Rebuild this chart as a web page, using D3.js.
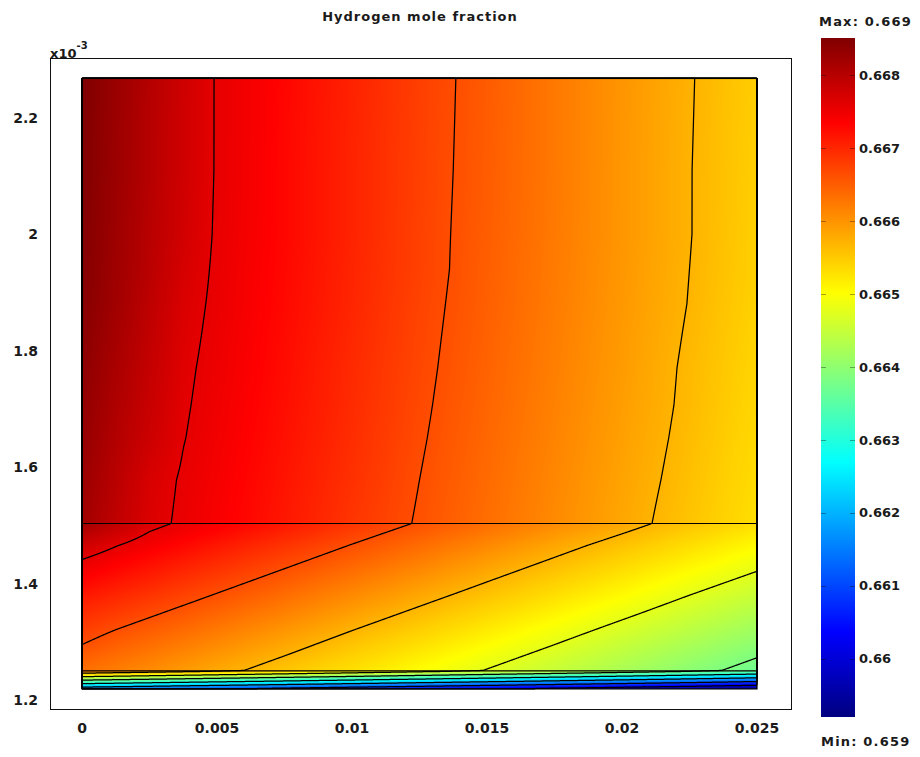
<!DOCTYPE html>
<html><head><meta charset="utf-8">
<script src="https://cdn.jsdelivr.net/npm/d3@7"></script>
<style>
html,body{margin:0;padding:0;background:#fff;}
text{font-family:"DejaVu Sans",Verdana,sans-serif;font-weight:bold;fill:#1a1a1a;}
</style></head><body>
<svg id="chart" width="920" height="757"></svg>
<script>
// ---------------- data ----------------
const chartTitle = "Hydrogen mole fraction";
// x coordinates of the sampled field (m)
const xNodes = [0, 0.00125, 0.0025, 0.00375, 0.005, 0.0075, 0.01, 0.0125, 0.015, 0.0175, 0.02, 0.0225, 0.025];
// y coordinates of the sampled field (x10^-3 m), top to bottom
const yNodes = [2.267, 2.11, 2.0, 1.94, 1.88, 1.77, 1.706, 1.65, 1.578, 1.503, 1.466, 1.44, 1.372, 1.295, 1.25, 1.219];
// hydrogen mole fraction at every (y, x) node
const moleFraction = [
  [0.66851, 0.66827, 0.66803, 0.66779, 0.66756, 0.66730, 0.66704, 0.66678, 0.66652, 0.66625, 0.66599, 0.66573, 0.66547],
  [0.66850, 0.66826, 0.66802, 0.66778, 0.66756, 0.66729, 0.66703, 0.66677, 0.66651, 0.66625, 0.66598, 0.66572, 0.66546],
  [0.66848, 0.66824, 0.66800, 0.66776, 0.66755, 0.66729, 0.66703, 0.66676, 0.66650, 0.66624, 0.66598, 0.66572, 0.66545],
  [0.66847, 0.66823, 0.66799, 0.66772, 0.66754, 0.66728, 0.66702, 0.66676, 0.66649, 0.66623, 0.66597, 0.66571, 0.66545],
  [0.66845, 0.66821, 0.66795, 0.66768, 0.66753, 0.66727, 0.66701, 0.66674, 0.66648, 0.66622, 0.66596, 0.66570, 0.66543],
  [0.66839, 0.66813, 0.66789, 0.66763, 0.66750, 0.66724, 0.66697, 0.66671, 0.66645, 0.66619, 0.66593, 0.66566, 0.66540],
  [0.66835, 0.66809, 0.66785, 0.66761, 0.66748, 0.66722, 0.66696, 0.66669, 0.66643, 0.66617, 0.66591, 0.66565, 0.66538],
  [0.66832, 0.66805, 0.66781, 0.66759, 0.66746, 0.66720, 0.66694, 0.66667, 0.66641, 0.66615, 0.66589, 0.66563, 0.66536],
  [0.66827, 0.66799, 0.66770, 0.66755, 0.66743, 0.66717, 0.66691, 0.66664, 0.66638, 0.66612, 0.66586, 0.66560, 0.66533],
  [0.66821, 0.66793, 0.66767, 0.66753, 0.66740, 0.66714, 0.66687, 0.66661, 0.66635, 0.66609, 0.66583, 0.66556, 0.66530],
  [0.66780, 0.66760, 0.66743, 0.66729, 0.66715, 0.66689, 0.66663, 0.66637, 0.66611, 0.66584, 0.66558, 0.66532, 0.66506],
  [0.66757, 0.66740, 0.66726, 0.66712, 0.66699, 0.66673, 0.66647, 0.66621, 0.66594, 0.66568, 0.66542, 0.66516, 0.66490],
  [0.66709, 0.66696, 0.66683, 0.66670, 0.66657, 0.66631, 0.66604, 0.66578, 0.66552, 0.66526, 0.66500, 0.66473, 0.66447],
  [0.66664, 0.66648, 0.66635, 0.66622, 0.66609, 0.66583, 0.66556, 0.66530, 0.66504, 0.66478, 0.66451, 0.66425, 0.66399],
  [0.66633, 0.66620, 0.66607, 0.66594, 0.66581, 0.66555, 0.66529, 0.66502, 0.66476, 0.66450, 0.66424, 0.66397, 0.66371],
  [0.66150, 0.66139, 0.66128, 0.66116, 0.66105, 0.66083, 0.66060, 0.66038, 0.66015, 0.65993, 0.65970, 0.65948, 0.65920]
];
const subdomainBoundaries = [1.503, 1.25];
const contourLevels = [0.66012, 0.66105, 0.66198, 0.66291, 0.66385, 0.66478, 0.66571, 0.66664, 0.66758];
const xTicks = [0, 0.005, 0.01, 0.015, 0.02, 0.025];
const xTickLabels = ["0", "0.005", "0.01", "0.015", "0.02", "0.025"];
const yTicks = [1.2, 1.4, 1.6, 1.8, 2, 2.2];
const yTickLabels = ["1.2", "1.4", "1.6", "1.8", "2", "2.2"];
const colorTicks = [0.660, 0.661, 0.662, 0.663, 0.664, 0.665, 0.666, 0.667, 0.668];
const colorTickLabels = ["0.66", "0.661", "0.662", "0.663", "0.664", "0.665", "0.666", "0.667", "0.668"];
const jetStops = [0, 0.125, 0.375, 0.625, 0.875, 1];
const jetColors = ["#000080", "#0000ff", "#00ffff", "#ffff00", "#ff0000", "#800000"];

// ---------------- drawing ----------------
const svg = d3.select("#chart");
const xScale = d3.scaleLinear().domain([0, 0.025]).range([82, 757]);
const yScale = d3.scaleLinear().domain([1.2, 2.2]).range([700, 117.5]);

const [vMin, vMax] = d3.extent(moleFraction.flat());
const color = d3.scaleLinear()
  .domain(jetStops.map(t => vMin + t * (vMax - vMin)))
  .range(jetColors).interpolate(d3.interpolateRgb).clamp(true);

// title
svg.append("text").attr("x", 420).attr("y", 21).attr("text-anchor", "middle")
  .style("font-size", "13px").style("letter-spacing", "1px").text(chartTitle);

// axes frame
svg.append("rect").attr("x", 50.5).attr("y", 58.5).attr("width", 741).attr("height", 651)
  .attr("fill", "none").attr("stroke", "#111").attr("stroke-width", 1);

// sampled field -> bilinear surface
const yAsc = yNodes.slice().reverse();
const rowsAsc = moleFraction.slice().reverse();
function clamp(v, a, b) { return Math.max(a, Math.min(b, v)); }
function sample(x, y) {
  const c = clamp(d3.bisectRight(xNodes, x) - 1, 0, xNodes.length - 2);
  const r = clamp(d3.bisectRight(yAsc, y) - 1, 0, yAsc.length - 2);
  const tx = clamp((x - xNodes[c]) / (xNodes[c + 1] - xNodes[c]), 0, 1);
  const ty = clamp((y - yAsc[r]) / (yAsc[r + 1] - yAsc[r]), 0, 1);
  const a = rowsAsc[r], b = rowsAsc[r + 1];
  return (1 - ty) * ((1 - tx) * a[c] + tx * a[c + 1]) + ty * ((1 - tx) * b[c] + tx * b[c + 1]);
}

const px0 = xScale(xNodes[0]), px1 = xScale(xNodes[xNodes.length - 1]);
const py0 = yScale(yNodes[0]), py1 = yScale(yNodes[yNodes.length - 1]);
const W = Math.round(px1 - px0), H = Math.round(py1 - py0);
const sx = (px1 - px0) / W, sy = (py1 - py0) / H;
const values = new Float64Array(W * H);
for (let j = 0; j < H; j++) {
  const y = yScale.invert(py0 + (j + 0.5) * sy);
  for (let i = 0; i < W; i++) {
    const x = xScale.invert(px0 + (i + 0.5) * sx);
    values[j * W + i] = sample(x, y);
  }
}
// colour lookup
const LUT = d3.range(1024).map(k => d3.rgb(color(vMin + k / 1023 * (vMax - vMin))));
const canvas = document.createElement("canvas");
canvas.width = W; canvas.height = H;
const ctx = canvas.getContext("2d");
const img = ctx.createImageData(W, H);
for (let p = 0; p < W * H; p++) {
  const k = clamp(Math.round((values[p] - vMin) / (vMax - vMin) * 1023), 0, 1023);
  const c = LUT[k];
  img.data[4 * p] = c.r; img.data[4 * p + 1] = c.g; img.data[4 * p + 2] = c.b; img.data[4 * p + 3] = 255;
}
ctx.putImageData(img, 0, 0);
svg.append("image").attr("x", px0).attr("y", py0)
  .attr("width", px1 - px0).attr("height", py1 - py0)
  .attr("preserveAspectRatio", "none").attr("href", canvas.toDataURL());

// contour lines
const contours = d3.contours().size([W, H]).thresholds(contourLevels)(values);
svg.append("g").attr("transform", `translate(${px0},${py0}) scale(${sx},${sy})`)
  .selectAll("path").data(contours).join("path")
  .attr("d", d3.geoPath()).attr("fill", "none")
  .attr("stroke", "#000").attr("stroke-width", 1.25).attr("vector-effect", "non-scaling-stroke")
  .attr("stroke-linejoin", "round");

// subdomain boundaries and outline
svg.append("g").selectAll("line").data(subdomainBoundaries).join("line")
  .attr("x1", px0).attr("x2", px1)
  .attr("y1", d => yScale(d)).attr("y2", d => yScale(d))
  .attr("stroke", "#000").attr("stroke-width", 1.2);
svg.append("rect").attr("x", px0).attr("y", py0)
  .attr("width", px1 - px0).attr("height", py1 - py0)
  .attr("fill", "none").attr("stroke", "#000").attr("stroke-width", 1.2);

// tick labels
svg.append("g").selectAll("text").data(xTicks).join("text")
  .attr("x", d => xScale(d)).attr("y", 733).attr("text-anchor", "middle")
  .style("font-size", "14px").text((d, i) => xTickLabels[i]);
svg.append("g").selectAll("text").data(yTicks).join("text")
  .attr("x", 38).attr("y", d => yScale(d)).attr("dy", "0.36em").attr("text-anchor", "end")
  .style("font-size", "14px").text((d, i) => yTickLabels[i]);
const mult = svg.append("text").attr("x", 50).attr("y", 58).style("font-size", "13px");
mult.append("tspan").text("x10");
mult.append("tspan").attr("dy", -9).style("font-size", "10px").text("-3");

// colour bar
const cbX = 821, cbW = 34, cbTop = 38, cbBottom = 717;
const cbScale = d3.scaleLinear().domain([vMin, vMax]).range([cbBottom, cbTop]);
const grad = svg.append("defs").append("linearGradient").attr("id", "jet")
  .attr("x1", 0).attr("y1", 1).attr("x2", 0).attr("y2", 0);
grad.selectAll("stop").data(jetStops).join("stop")
  .attr("offset", d => d).attr("stop-color", (d, i) => jetColors[i]);
svg.append("rect").attr("x", cbX).attr("y", cbTop).attr("width", cbW).attr("height", cbBottom - cbTop)
  .attr("fill", "url(#jet)");
const cbt = svg.append("g").selectAll("g").data(colorTicks).join("g");
cbt.append("line").attr("x1", cbX).attr("x2", cbX + 5)
  .attr("y1", d => Math.round(cbScale(d)) + 0.5).attr("y2", d => Math.round(cbScale(d)) + 0.5)
  .attr("stroke", "#000").attr("stroke-opacity", 0.35);
cbt.append("line").attr("x1", cbX + cbW - 5).attr("x2", cbX + cbW)
  .attr("y1", d => Math.round(cbScale(d)) + 0.5).attr("y2", d => Math.round(cbScale(d)) + 0.5)
  .attr("stroke", "#000").attr("stroke-opacity", 0.35);
cbt.append("text").attr("x", cbX + cbW + 4).attr("y", d => cbScale(d)).attr("dy", "0.36em")
  .style("font-size", "13px").text((d, i) => colorTickLabels[i]);
const fmt = d3.format(".3f");
svg.append("text").attr("x", 819).attr("y", 26).style("font-size", "13px").style("letter-spacing", "1.2px")
  .text("Max: " + fmt(vMax));
svg.append("text").attr("x", 821).attr("y", 746).style("font-size", "13px").style("letter-spacing", "1.2px")
  .text("Min: " + fmt(vMin));
</script>
</body></html>
